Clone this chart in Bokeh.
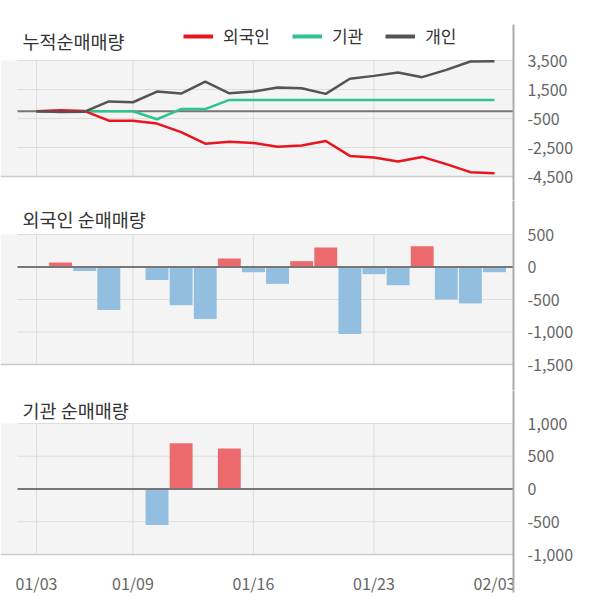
from bokeh.plotting import figure
from bokeh.models import (Range1d, FixedTicker, NumeralTickFormatter, LinearAxis,
                          BoxAnnotation, Label, Legend, LegendItem, ColumnDataSource)
from bokeh.layouts import column
from bokeh.embed import file_html
from bokeh.resources import INLINE

# ---------------- data ----------------
DATES = ["01/03", "01/04", "01/05", "01/06", "01/09", "01/10", "01/11", "01/12",
         "01/13", "01/16", "01/17", "01/18", "01/19", "01/20", "01/23", "01/24",
         "01/25", "01/26", "01/27", "02/03"]
X_TICK_LABELS = ["01/03", "01/09", "01/16", "01/23", "02/03"]
X_GRID_LABELS = ["01/03", "01/09", "01/16", "01/23"]

FOREIGN_DAILY = [0, 70, -60, -660, 0, -200, -590, -800, 130, -80,
                 -260, 90, 300, -1030, -110, -280, 320, -500, -560, -80]
INST_DAILY = [0, 0, 0, 0, 0, -550, 700, 0, 620, 0,
              0, 0, 0, 0, 0, 0, 0, 0, 0, 0]

FOREIGN_CUM = [0, 70, 10, -650, -650, -850, -1440, -2240, -2110, -2190,
               -2450, -2360, -2050, -3080, -3190, -3470, -3150, -3650, -4200, -4280]
INST_CUM = [0, 0, 0, 0, 0, -550, 150, 150, 780, 780,
            780, 780, 780, 780, 780, 780, 780, 780, 780, 780]
INDIV_CUM = [0, -60, -30, 680, 620, 1360, 1220, 2050, 1240, 1360,
             1640, 1590, 1200, 2240, 2440, 2670, 2350, 2850, 3430, 3450]

CUM_TICKS = [3500, 1500, -500, -2500, -4500]
FOREIGN_TICKS = [500, 0, -500, -1000, -1500]
INST_TICKS = [1000, 500, 0, -500, -1000]

SERIES_NAMES = ["외국인", "기관", "개인"]
TITLES = ["누적순매매량", "외국인 순매매량", "기관 순매매량"]

# ---------------- style / layout ----------------
FONT = "Noto Sans CJK KR"
RED_LINE, GREEN_LINE, GRAY_LINE = "#e8141e", "#2ec58d", "#545454"
BAR_POS, BAR_NEG = "#ec6a6e", "#92bee0"
BG, GRID, ZERO, AXIS = "#f4f4f4", "#dddddd", "#777777", "#aaaaaa"
TEXT, TICK = "#333333", "#666666"

FRAME_L_PX = 0
FRAME_R_PX = 513
FRAME_W = FRAME_R_PX - FRAME_L_PX
RIGHT_BORDER = 81
SLOT0_PX, SLOTN_PX, GRID_L_PX = 36, 494, 17
N = len(DATES)
SLOT_PX = (SLOTN_PX - SLOT0_PX) / (N - 1)
xr = Range1d(-(SLOT0_PX - FRAME_L_PX) / SLOT_PX, (N - 1) + (FRAME_R_PX - SLOTN_PX) / SLOT_PX)
GRID_X0 = -(SLOT0_PX - GRID_L_PX) / SLOT_PX

idx = list(range(N))
grid_idx = [DATES.index(d) for d in X_GRID_LABELS]
tick_idx = [DATES.index(d) for d in X_TICK_LABELS]


def make_panel(frame_top, frame_bot, v_top, px_top, v_bot, px_bot, ticks,
               title, title_px, border_top, border_bottom, show_x):
    upp = (v_top - v_bot) / (px_bot - px_top)
    yr = Range1d(v_bot - (frame_bot - px_bot) * upp, v_top + (px_top - frame_top) * upp)
    p = figure(frame_width=FRAME_W, frame_height=frame_bot - frame_top,
               x_range=xr, y_range=yr, x_axis_location=None, y_axis_location="right",
               toolbar_location=None, output_backend="svg",
               min_border_left=FRAME_L_PX, min_border_right=RIGHT_BORDER,
               min_border_top=border_top, min_border_bottom=border_bottom)
    p.outline_line_color = None
    p.background_fill_color = "white"
    p.border_fill_color = "white"
    p.grid.visible = False

    p.add_layout(BoxAnnotation(bottom=v_bot, top=v_top, fill_color=BG, fill_alpha=1,
                               line_color=None, level="underlay"))
    hs = [t for t in ticks if t not in (0, v_bot)]
    p.segment(x0=GRID_X0, x1=xr.end, y0=hs, y1=hs, line_color=GRID, line_width=1)
    p.segment(x0=grid_idx, x1=grid_idx, y0=v_bot, y1=v_top, line_color=GRID, line_width=1)

    ya = p.yaxis[0]
    ya.ticker = FixedTicker(ticks=ticks)
    ya.formatter = NumeralTickFormatter(format="0,0")
    ya.axis_line_color = AXIS
    ya.axis_line_width = 2
    ya.major_tick_line_color = None
    ya.minor_tick_line_color = None
    ya.major_label_standoff = 8
    ya.major_label_text_font = FONT
    ya.major_label_text_font_size = "16px"
    ya.major_label_text_color = TICK

    xa = LinearAxis(fixed_location=v_bot,
                    ticker=FixedTicker(ticks=tick_idx if show_x else []))
    xa.axis_line_color = "#cccccc"
    xa.axis_line_width = 1.5
    xa.major_tick_line_color = None
    xa.minor_tick_line_color = None
    xa.major_tick_out = 0
    xa.major_label_standoff = 16
    xa.major_label_text_font = FONT
    xa.major_label_text_font_size = "16px"
    xa.major_label_text_color = TICK
    xa.major_label_overrides = {i: DATES[i] for i in tick_idx}
    p.add_layout(xa, "below")

    p.add_layout(Label(x=22 - FRAME_L_PX, y=frame_bot - title_px, x_units="screen", y_units="screen",
                       text=title, text_font=FONT, text_font_size="18.5px",
                       text_color=TEXT, text_baseline="middle", text_align="left"))
    return p


# ---- panel 1: cumulative ----
p1 = make_panel(24, 200, 3500, 60, -4500, 176, CUM_TICKS, TITLES[0], 40, 24, 0, False)
p1.segment(x0=GRID_X0, x1=xr.end, y0=0, y1=0, line_color=ZERO, line_width=2)
src = ColumnDataSource(dict(x=idx, f=FOREIGN_CUM, i=INST_CUM, p=INDIV_CUM))
p1.line("x", "i", source=src, line_color=GREEN_LINE, line_width=2.5)
p1.line("x", "f", source=src, line_color=RED_LINE, line_width=2.5)
p1.line("x", "p", source=src, line_color=GRAY_LINE, line_width=2.5)
# legend-only renderers (thicker swatches), mapped to a range where they are not drawn
p1.extra_x_ranges = {"legend_only": Range1d(start=-1000, end=-999)}
leg_r = [p1.line("x", col, source=src, line_color=c, line_width=4, x_range_name="legend_only")
         for col, c in (("f", RED_LINE), ("i", GREEN_LINE), ("p", GRAY_LINE))]
legend = Legend(items=[LegendItem(label=n, renderers=[r]) for n, r in zip(SERIES_NAMES, leg_r)],
                location=(183 - FRAME_L_PX, 200 - 48), orientation="horizontal",
                glyph_width=30, glyph_height=16, label_height=16, label_standoff=10,
                spacing=22, padding=0, margin=0, border_line_color=None,
                background_fill_alpha=0, label_text_font=FONT,
                label_text_font_size="17px", label_text_color=TEXT)
p1.add_layout(legend)

# ---- panel 2: foreign daily ----
p2 = make_panel(200, 390, 500, 234, -1500, 364, FOREIGN_TICKS, TITLES[1], 218, 0, 0, False)
src2 = ColumnDataSource(dict(x=idx, v=FOREIGN_DAILY,
                             c=[BAR_POS if v > 0 else BAR_NEG for v in FOREIGN_DAILY]))
p2.vbar(x="x", top="v", bottom=0, width=0.95, source=src2, fill_color="c", line_color=None)
p2.segment(x0=GRID_X0, x1=xr.end, y0=0, y1=0, line_color=ZERO, line_width=2)

# ---- panel 3: institution daily ----
p3 = make_panel(390, 592, 1000, 423, -1000, 554, INST_TICKS, TITLES[2], 409, 0, 8, True)
src3 = ColumnDataSource(dict(x=idx, v=INST_DAILY,
                             c=[BAR_POS if v > 0 else BAR_NEG for v in INST_DAILY]))
p3.vbar(x="x", top="v", bottom=0, width=0.95, source=src3, fill_color="c", line_color=None)
p3.segment(x0=GRID_X0, x1=xr.end, y0=0, y1=0, line_color=ZERO, line_width=2)

layout = column(p1, p2, p3, spacing=0)
open("out.html", "w").write(file_html(layout, INLINE))
